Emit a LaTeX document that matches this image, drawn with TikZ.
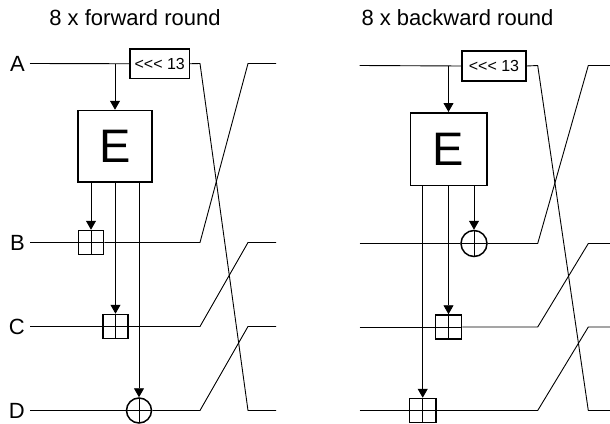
\documentclass[tikz,border=0pt]{standalone}
\usepackage{fontspec}
\setmainfont{Liberation Sans}
\usetikzlibrary{arrows.meta}
\begin{document}
\begin{tikzpicture}[x=1pt,y=-1pt,
  wire/.style={line width=0.9pt},
  arr/.style={wire,-{Triangle[length=9pt,width=10pt]}},
  crosspic/.style={path picture={\draw[line width=0.9pt]
      (path picture bounding box.north)--(path picture bounding box.south)
      (path picture bounding box.west)--(path picture bounding box.east);}},
  plusbox/.style={draw,line width=1.5pt,minimum width=25pt,minimum height=24pt,inner sep=0pt,crosspic},
  xorcirc/.style={draw,circle,line width=1.5pt,minimum size=25pt,inner sep=0pt,crosspic},
  rotbox/.style={draw,line width=1.2pt,inner sep=0pt,minimum height=29.5pt,font=\fontsize{16}{18}\selectfont},
  ebox/.style={draw,line width=1.5pt,inner sep=0pt,font=\fontsize{47}{50}\selectfont},
  lab/.style={font=\fontsize{22}{26}\selectfont,inner ysep=0pt,inner xsep=5pt,anchor=east},
  ttl/.style={font=\fontsize{22}{26}\selectfont,inner sep=0pt},
]
\useasboundingbox (0,0) rectangle (610,423);

% titles
\node[ttl] (t1) at (135,17.5) {8 x forward round};
\node[ttl] (t2) at (457.5,17.5) {8 x backward round};

% ---------------- left panel ----------------
\node[lab] (A1) at (30,63.5) {A};
\node[lab] (B1) at (30,242.5) {B};
\node[lab] (C1) at (30,326.5) {C};
\node[lab] (D1) at (30,410.5) {D};

\node[rotbox,minimum width=59.5pt] (r1) at (159.75,63.75) {{<}{<}{<} 13};
\node[ebox,minimum width=74pt,minimum height=71.5pt] (E1) at (115,146.25) {E};
\node[plusbox] (pB1) at (91,242.5) {};
\node[plusbox] (pC1) at (115.5,326.5) {};
\node[xorcirc] (xD1) at (139,410.5) {};

\coordinate (br1) at (115,63.5);
\coordinate (a1) at (200,63.5);
\coordinate (b1) at (200,242.5);
\coordinate (c1) at (200,326.5);
\coordinate (d1) at (200,410.5);
\coordinate (oA1) at (248,63.5);
\coordinate (oB1) at (248,242.5);
\coordinate (oC1) at (248,326.5);
\coordinate (oD1) at (248,410.5);
\coordinate (eA1) at (276,63.5);
\coordinate (eB1) at (276,242.5);
\coordinate (eC1) at (276,326.5);
\coordinate (eD1) at (276,410.5);

\draw[wire] (A1.east) -- (r1.west);
\draw[wire] (r1.east) -- (a1) -- (oD1) -- (eD1);
\draw[wire] (B1.east) -- (pB1.west);
\draw[wire] (pB1.east) -- (b1) -- (oA1) -- (eA1);
\draw[wire] (C1.east) -- (pC1.west);
\draw[wire] (pC1.east) -- (c1) -- (oB1) -- (eB1);
\draw[wire] (D1.east) -- (xD1.west);
\draw[wire] (xD1.east) -- (d1) -- (oC1) -- (eC1);

\draw[arr] (br1) -- (E1.north);
\draw[arr] (pB1 |- E1.south) -- (pB1.north);
\draw[arr] (pC1 |- E1.south) -- (pC1.north);
\draw[arr] (xD1 |- E1.south) -- (xD1.north);

% ---------------- right panel ----------------
\coordinate (A2) at (359.5,65.5);
\coordinate (B2) at (359.5,243.5);
\coordinate (C2) at (359.5,327);
\coordinate (D2) at (359.5,410.5);

\node[rotbox,minimum width=64pt,minimum height=30pt] (r2) at (494,66) {{<}{<}{<} 13};
\node[ebox,minimum width=76.5pt,minimum height=72.5pt] (E2) at (448.5,149) {E};
\node[xorcirc,minimum size=26pt] (xB2) at (474,243.5) {};
\node[plusbox,minimum width=26pt] (pC2) at (448.5,327) {};
\node[plusbox,minimum width=26.5pt] (pD2) at (422.7,410.5) {};

\coordinate (br2) at (448.5,65.5);
\coordinate (a2) at (537.7,65.5);
\coordinate (b2) at (537.7,243.5);
\coordinate (c2) at (537.7,327);
\coordinate (d2) at (537.7,410.5);
\coordinate (oA2) at (588.3,65.5);
\coordinate (oB2) at (588.3,243.5);
\coordinate (oC2) at (588.3,327);
\coordinate (oD2) at (588.3,410.5);
\coordinate (eA2) at (610,65.5);
\coordinate (eB2) at (610,243.5);
\coordinate (eC2) at (610,327);
\coordinate (eD2) at (610,410.5);

\draw[wire] (A2) -- (r2.west);
\draw[wire] (r2.east) -- (a2) -- (oD2) -- (eD2);
\draw[wire] (B2) -- (xB2.west);
\draw[wire] (xB2.east) -- (b2) -- (oA2) -- (eA2);
\draw[wire] (C2) -- (pC2.west);
\draw[wire] (pC2.east) -- (c2) -- (oB2) -- (eB2);
\draw[wire] (D2) -- (pD2.west);
\draw[wire] (pD2.east) -- (d2) -- (oC2) -- (eC2);

\draw[arr] (br2) -- (E2.north);
\draw[arr] (xB2 |- E2.south) -- (xB2.north);
\draw[arr] (pC2 |- E2.south) -- (pC2.north);
\draw[arr] (pD2 |- E2.south) -- (pD2.north);
\end{tikzpicture}
\end{document}
